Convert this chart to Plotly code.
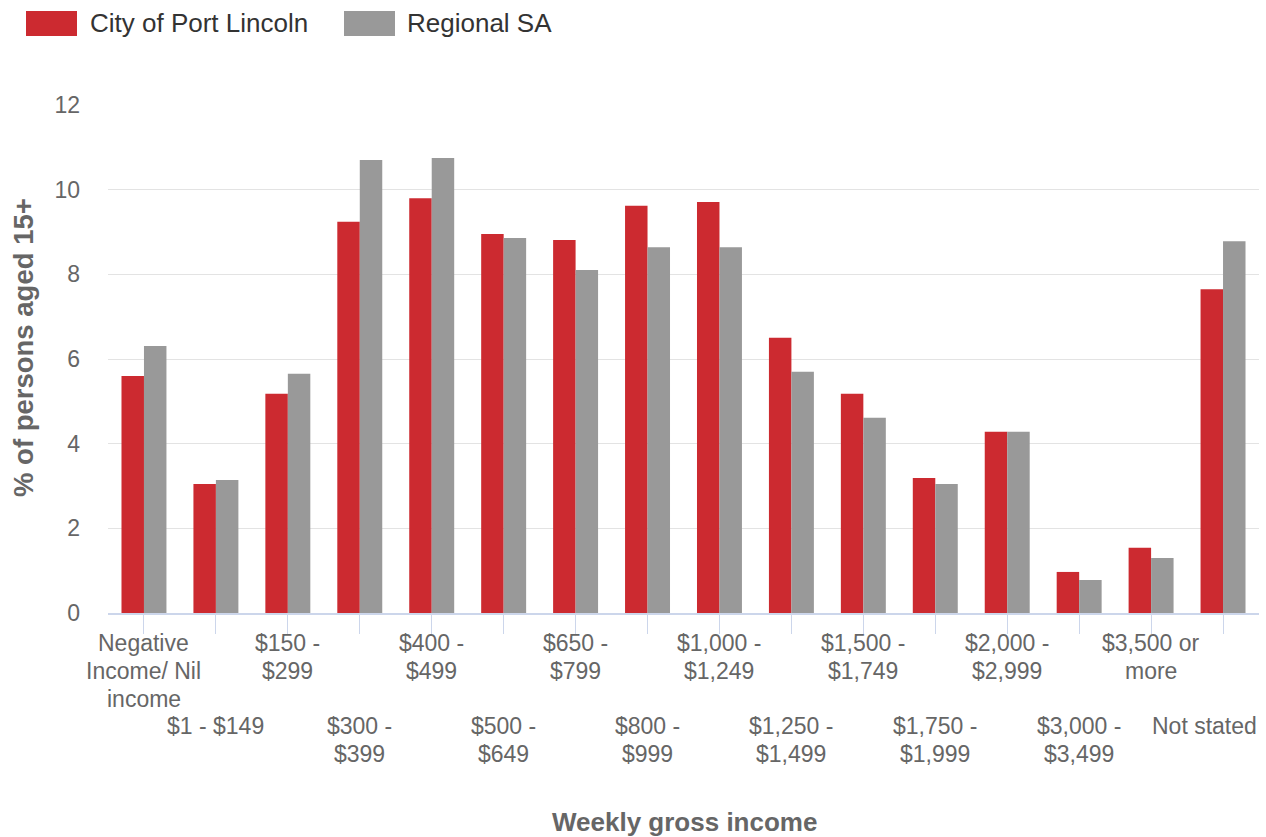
import plotly.graph_objects as go

# Weekly gross income distribution, persons aged 15+
categories = [
    "Negative<br>Income/ Nil<br>income", "$1 - $149", "$150 -<br>$299", "$300 -<br>$399",
    "$400 -<br>$499", "$500 -<br>$649", "$650 -<br>$799", "$800 -<br>$999",
    "$1,000 -<br>$1,249", "$1,250 -<br>$1,499", "$1,500 -<br>$1,749", "$1,750 -<br>$1,999",
    "$2,000 -<br>$2,999", "$3,000 -<br>$3,499", "$3,500 or<br>more", "Not stated",
]
port_lincoln = [5.60, 3.05, 5.18, 9.24, 9.80, 8.95, 8.81, 9.62, 9.71, 6.50, 5.18, 3.19, 4.28, 0.97, 1.54, 7.65]
regional_sa = [6.31, 3.14, 5.65, 10.70, 10.75, 8.86, 8.10, 8.64, 8.64, 5.70, 4.61, 3.05, 4.28, 0.78, 1.30, 8.78]
y_ticks = [0, 2, 4, 6, 8, 10, 12]

RED = "#cc2a30"
GREY = "#999999"
FONT = "Liberation Sans, Arial, sans-serif"
W, H = 1266, 837
L, R, T, B = 108, 7, 105, 224
PW, PH = W - L - R, H - T - B


def px(xp):
    return (xp - L) / PW


def py(yp):
    return (H - B - yp) / PH


xs = list(range(len(categories)))

fig = go.Figure()
fig.add_trace(go.Bar(x=xs, y=port_lincoln, name="City of Port Lincoln",
                     marker=dict(color=RED, line=dict(width=0))))
fig.add_trace(go.Bar(x=xs, y=regional_sa, name="Regional SA",
                     marker=dict(color=GREY, line=dict(width=0))))

# Category labels, staggered over two rows, one annotation per text line
LINE_H = 28
for i, lab in enumerate(categories):
    first_line = 643 if i % 2 == 0 else 726
    for k, line in enumerate(lab.split("<br>")):
        ann = dict(x=i, xref="x", y=py(first_line + k * LINE_H), yref="paper",
                   text=line, showarrow=False, yanchor="middle", xanchor="center",
                   font=dict(family=FONT, size=23, color="#666666"))
        if i == len(categories) - 1:
            ann.update(x=px(1259), xref="paper", xanchor="right")
        fig.add_annotation(**ann)

# Legend drawn as swatches with labels along the top
legend_items = [("City of Port Lincoln", RED, 26, 88), ("Regional SA", GREY, 344, 405)]
for name, col, sx, tx in legend_items:
    fig.add_shape(type="rect", xref="paper", yref="paper",
                  x0=px(sx), x1=px(sx + 51), y0=py(36), y1=py(11),
                  fillcolor=col, line=dict(width=0))
    fig.add_annotation(x=px(tx), xref="paper", y=py(23), yref="paper",
                       text=name, showarrow=False, xanchor="left", yanchor="middle",
                       font=dict(family=FONT, size=26, color="#333333"))

# Axis titles
fig.add_annotation(x=px(684), xref="paper", y=py(822), yref="paper",
                   text="<b>Weekly gross income</b>", showarrow=False,
                   xanchor="center", yanchor="middle",
                   font=dict(family=FONT, size=26, color="#666666"))
fig.add_annotation(x=px(23), xref="paper", y=py(348), yref="paper",
                   text="<b>% of persons aged 15+</b>", showarrow=False, textangle=-90,
                   xanchor="center", yanchor="middle",
                   font=dict(family=FONT, size=27.5, color="#666666"))

fig.update_layout(
    width=W, height=H,
    margin=dict(l=L, r=R, t=T, b=B, pad=0),
    paper_bgcolor="white", plot_bgcolor="white",
    barmode="group", bargap=0.375, bargroupgap=0,
    showlegend=False,
    font=dict(family=FONT, size=23, color="#666666"),
    xaxis=dict(
        range=[-0.5, len(categories) - 0.5],
        tickvals=xs, showticklabels=False,
        ticks="outside", ticklen=19, tickwidth=1, tickcolor="#ccd6eb",
        showline=True, linecolor="#ccd6eb", linewidth=2,
        showgrid=False, zeroline=False, automargin=False,
    ),
    yaxis=dict(
        range=[0, 12], tickvals=y_ticks,
        tickfont=dict(family=FONT, size=23, color="#666666"),
        showgrid=True, gridcolor="#e3e3e3", gridwidth=1,
        zeroline=False, showline=False, ticks="", ticklabelstandoff=27,
        automargin=False,
    ),
)

fig.write_html("out.html")
